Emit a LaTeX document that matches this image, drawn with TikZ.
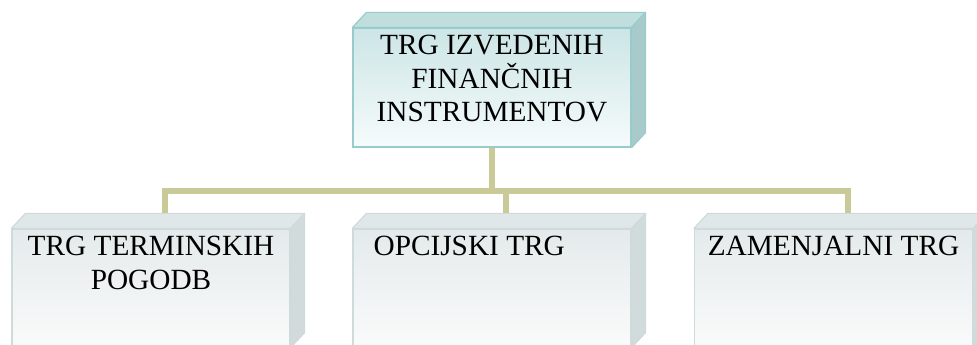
\documentclass[tikz,border=0pt]{standalone}
\usepackage{fontspec}
\setmainfont{Liberation Serif}
\usepackage{xcolor}
\usepackage{tikz}

\definecolor{tealedge}{HTML}{98CCCC}
\definecolor{tealhi}{HTML}{CCE5E6}
\definecolor{teallo}{HTML}{F6FBFB}
\definecolor{tealroof}{HTML}{C0DEDE}
\definecolor{tealwall}{HTML}{A9CACA}
\definecolor{greyedge}{HTML}{CFDADB}
\definecolor{greyhi}{HTML}{E4EAEB}
\definecolor{greylo}{HTML}{FAFBFB}
\definecolor{greyroof}{HTML}{E0E7E8}
\definecolor{greywall}{HTML}{D2DBDC}
\definecolor{khaki}{HTML}{CACA98}

\begin{document}
\begin{tikzpicture}[x=1pt,y=1pt,
    topbox/.style={rectangle,inner sep=0pt,draw=tealedge,line width=1.2pt,
      top color=tealhi,bottom color=teallo,minimum width=278pt,minimum height=119pt},
    subbox/.style={rectangle,inner sep=0pt,draw=greyedge,line width=1.2pt,
      top color=greyhi,bottom color=greylo,minimum width=278pt,minimum height=118pt},
    boxtext/.style={inner sep=0pt,align=center,font=\fontsize{29.3}{33.5}\selectfont},
    link/.style={draw=khaki,line width=6pt}]
  \useasboundingbox (0,0) rectangle (977,345);

  % the four fronts
  \node[topbox] (top) at (492,257.5) {};
  \node[subbox] (left) at (151,57) {};
  \node[subbox] (mid) at (492,57) {};
  \node[subbox] (right) at (833.5,57) {};

  % roof and side wall of each box
  \foreach \n/\e/\r/\w in {top/tealedge/tealroof/tealwall,left/greyedge/greyroof/greywall,
      mid/greyedge/greyroof/greywall,right/greyedge/greyroof/greywall} {
    \filldraw[fill=\r,draw=\e,line width=1.2pt,line join=round] (\n.north west)
      -- ([shift={(14,15)}]\n.north west) -- ([shift={(14,15)}]\n.north east) -- (\n.north east) -- cycle;
    \filldraw[fill=\w,draw=\e,line width=1.2pt,line join=round] (\n.north east)
      -- ([shift={(14,15)}]\n.north east) -- ([shift={(14,15)}]\n.south east) -- (\n.south east) -- cycle;
  }

  % texts
  \node[boxtext,anchor=north] (t-top) at ([yshift=-7.6pt]top.north)
    {TRG IZVEDENIH\\FINANČNIH\\INSTRUMENTOV};
  \node[boxtext,anchor=north] (t-left) at ([yshift=-7.6pt]left.north) {TRG TERMINSKIH\\POGODB};
  \node[boxtext,anchor=north west] (t-mid) at ([shift={(21,-7.6)}]mid.north west) {OPCIJSKI TRG};
  \node[boxtext,anchor=north] (t-right) at ([yshift=-7.6pt]right.north) {ZAMENJALNI TRG};

  % connectors
  \foreach \n in {left,mid,right} {
    \coordinate (\n-in) at ([shift={(14,15)}]\n.north);
    \draw[link] (top.south) -- ++(0,-43) -| (\n-in);
  }
\end{tikzpicture}
\end{document}
